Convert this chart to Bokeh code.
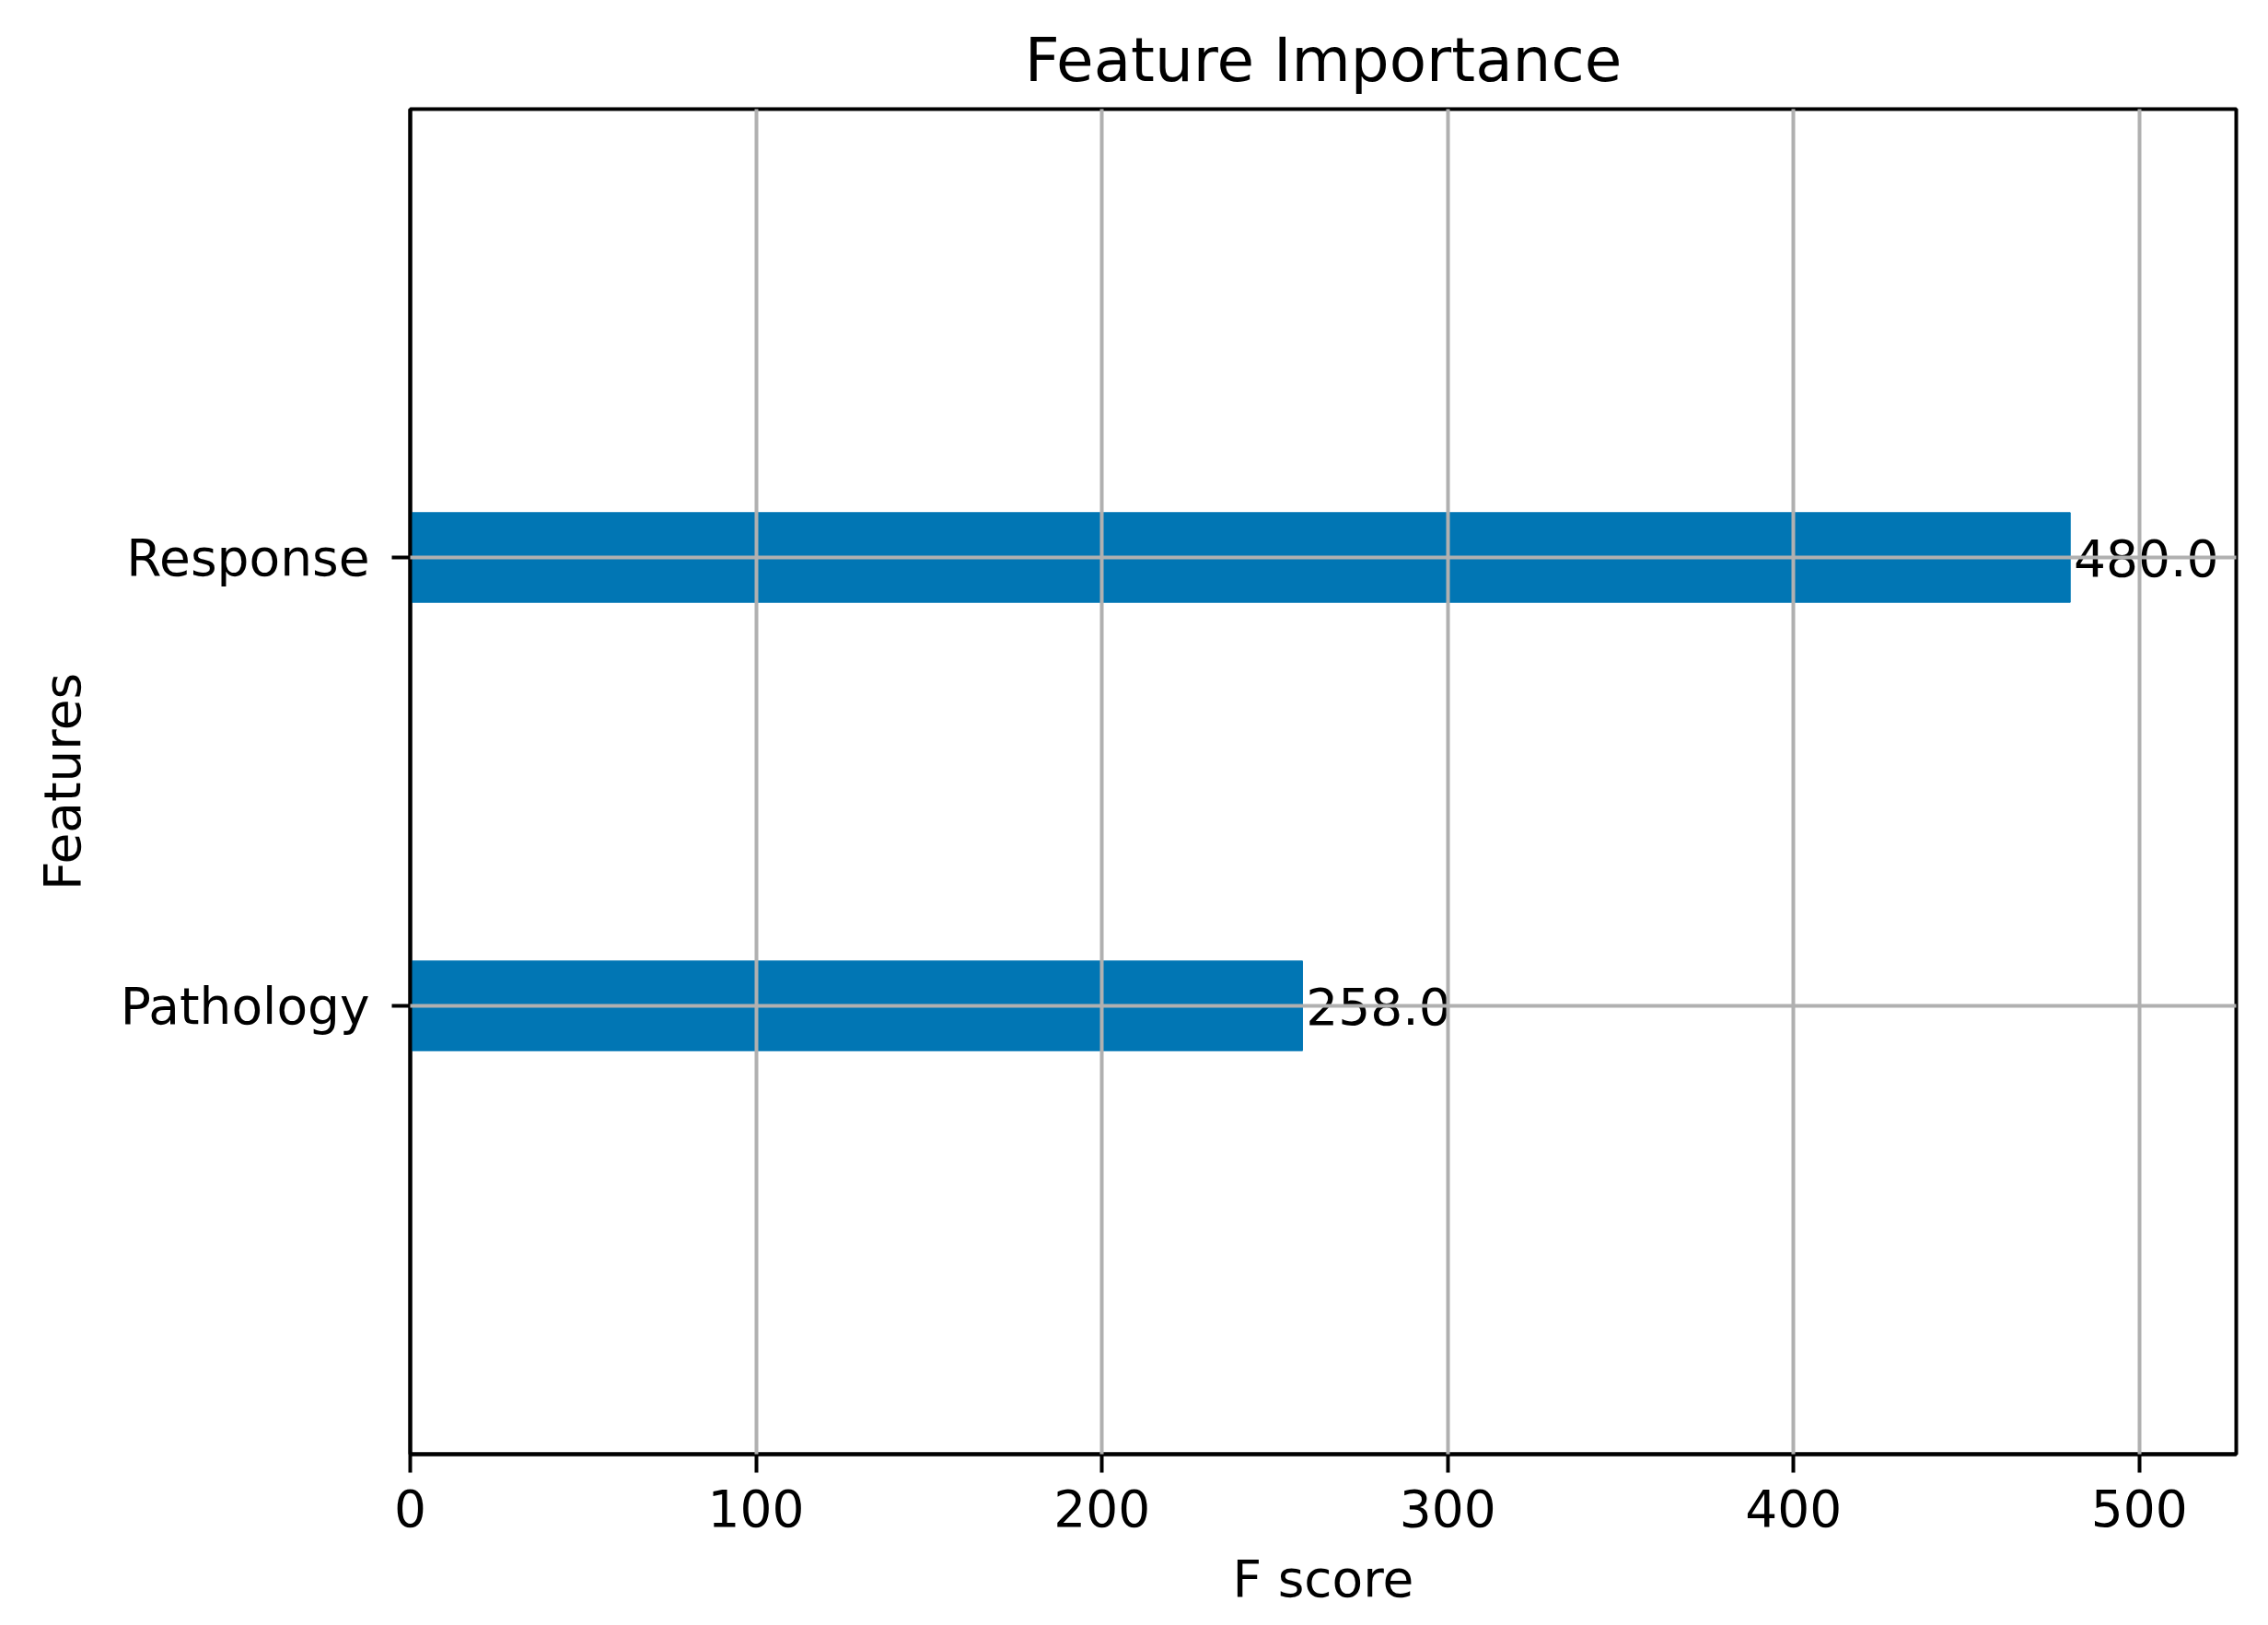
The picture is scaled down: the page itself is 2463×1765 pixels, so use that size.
from bokeh.plotting import figure
from bokeh.models import Range1d, FixedTicker, ColumnDataSource
from bokeh.core.properties import value
from bokeh.embed import file_html
from bokeh.resources import INLINE

# ---- data ----
features = ["Pathology", "Response"]
scores = [258.0, 480.0]
positions = [0, 1]
x_ticks = [0, 100, 200, 300, 400, 500]

FONT = "DejaVu Sans"
BAR = "#0176b4"
GRID = "#b0b0b0"

src = ColumnDataSource(dict(y=positions, score=scores,
                            lx=[s + 1 for s in scores],
                            lab=[str(s) for s in scores]))

p = figure(width=2447, height=1749, output_backend="svg", toolbar_location=None,
           x_range=Range1d(0, max(scores) * 1.1),
           y_range=Range1d(-1, len(scores)),
           min_border_left=445, min_border_right=19,
           min_border_top=118, min_border_bottom=167)

p.background_fill_color = "white"
p.border_fill_color = "white"
p.outline_line_color = "black"
p.outline_line_width = 4
p.outline_line_alpha = 1

p.title.text = "Feature Importance"
p.title.align = "center"
p.title.text_font = FONT
p.title.text_font_size = "66px"
p.title.text_font_style = "normal"
p.title.text_color = "black"
p.title.standoff = 30

p.hbar(y="y", right="score", left=0, height=0.2, source=src,
       fill_color=BAR, line_color=BAR)
p.text(x="lx", y="y", text="lab", source=src, text_font=value(FONT),
       text_font_size="55px", text_baseline="middle", text_align="left",
       text_color="black")

p.xaxis.ticker = FixedTicker(ticks=x_ticks)
p.yaxis.ticker = FixedTicker(ticks=positions)
p.yaxis.major_label_overrides = {pos: f for pos, f in zip(positions, features)}

for ax in (p.xaxis[0], p.yaxis[0]):
    ax.axis_line_width = 4
    ax.axis_line_color = "black"
    ax.major_tick_line_width = 4
    ax.major_tick_line_color = "black"
    ax.major_tick_out = 20
    ax.major_tick_in = 0
    ax.minor_tick_line_color = None
    ax.major_label_text_font = FONT
    ax.major_label_text_font_size = "55px"
    ax.major_label_text_color = "black"
    ax.axis_label_text_font = FONT
    ax.axis_label_text_font_size = "55px"
    ax.axis_label_text_font_style = "normal"
    ax.axis_label_text_color = "black"

p.xaxis.axis_label = "F score"
p.yaxis.axis_label = "Features"
p.xaxis.major_label_standoff = 18
p.yaxis.major_label_standoff = 24
p.xaxis.axis_label_standoff = 22
p.yaxis.axis_label_standoff = 28

for g in (p.xgrid[0], p.ygrid[0]):
    g.grid_line_color = GRID
    g.grid_line_width = 4
    g.level = "guide"
p.ygrid.ticker = FixedTicker(ticks=positions)
p.xgrid.ticker = FixedTicker(ticks=x_ticks)

open("out.html", "w").write(file_html(p, INLINE))
